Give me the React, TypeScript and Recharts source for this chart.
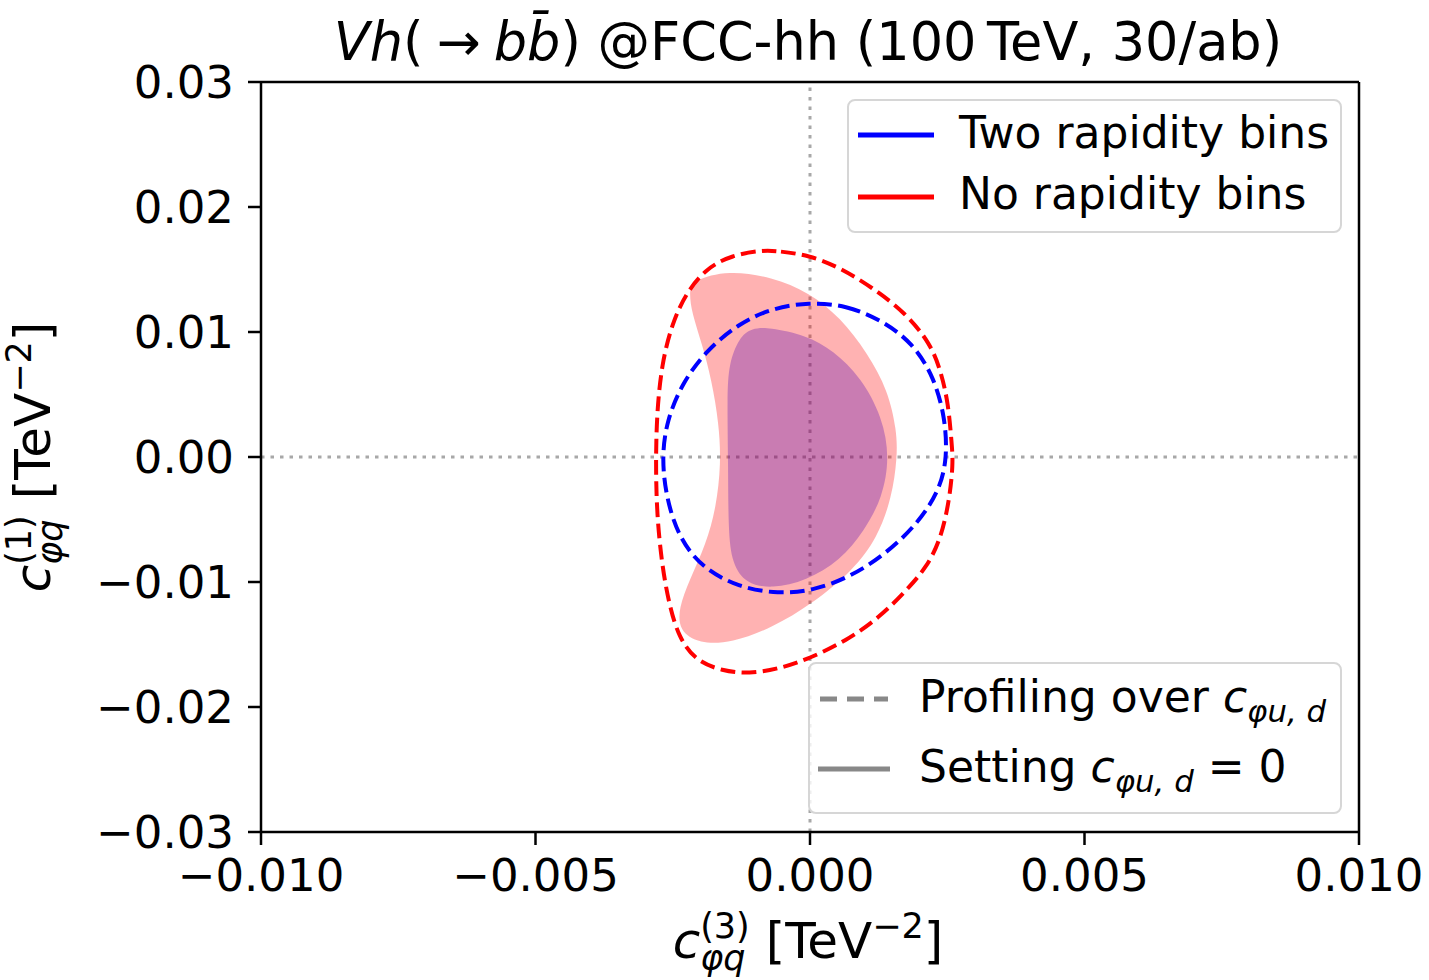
import React from 'react';
import { ScatterChart, Scatter, XAxis, YAxis, ReferenceLine } from 'recharts';

// ---- axis ticks ----
const xTicks = [-0.01, -0.005, 0, 0.005, 0.01];
const yTicks = [-0.03, -0.02, -0.01, 0, 0.01, 0.02, 0.03];

// ---- Profiling, no rapidity bins (red dashed) ----
const redDashX = [-0.00087, -0.00057, -0.00002, 0.00053, 0.00113, 0.00175, 0.00219, 0.00238, 0.00252, 0.00258, 0.00261, 0.00253, 0.00237, 0.00212, 0.00175, 0.00126, 0.00066, -0.00002, -0.00057, -0.00111, -0.0016, -0.00208, -0.00239, -0.00257, -0.0027, -0.00279, -0.00281, -0.00279, -0.0027, -0.00251, -0.00226, -0.00189, -0.00142];
const redDashY = [0.01655, 0.01647, 0.01615, 0.01518, 0.01358, 0.0115, 0.00909, 0.00693, 0.00429, 0.00108, -0.00052, -0.00373, -0.00669, -0.00885, -0.0107, -0.01286, -0.0147, -0.01615, -0.01695, -0.01735, -0.01711, -0.01631, -0.01446, -0.01174, -0.00853, -0.00453, -0.00052, 0.00349, 0.00749, 0.0107, 0.0131, 0.0151, 0.01615];

// ---- Profiling, two rapidity bins (blue dashed) ----
const blueDashX = [-0.00002, 0.00066, 0.00131, 0.00188, 0.00226, 0.00246, 0.0025, 0.00236, 0.00196, 0.00139, 0.00071, 0.00004, -0.00057, -0.00129, -0.00197, -0.00239, -0.00262, -0.0027, -0.00261, -0.00233, -0.00189, -0.00129, -0.00069];
const blueDashY = [0.01238, 0.01214, 0.01094, 0.00909, 0.00637, 0.00317, -0.00004, -0.00268, -0.00533, -0.00773, -0.00966, -0.0107, -0.01094, -0.01046, -0.00885, -0.00645, -0.00325, -0.00004, 0.00292, 0.00589, 0.00853, 0.0107, 0.0119];

// ---- Setting c_phiu,d = 0, no rapidity bins (red fill) ----
const redFillX = [-0.00148, -0.00069, -0.00002, 0.00055, 0.00105, 0.00142, 0.00158, 0.00159, 0.00149, 0.00123, 0.00078, 0.00004, -0.00069, -0.00142, -0.00202, -0.00239, -0.00239, -0.0022, -0.00189, -0.00171, -0.00162, -0.00166, -0.00179, -0.00197, -0.00215, -0.0022, -0.00215];
const redFillY = [0.01494, 0.01438, 0.01318, 0.01118, 0.00829, 0.00533, 0.00212, -0.00004, -0.00325, -0.00645, -0.00909, -0.01174, -0.01366, -0.01486, -0.01494, -0.0139, -0.01206, -0.0099, -0.00693, -0.00405, -0.00052, 0.00268, 0.00613, 0.00909, 0.0115, 0.0131, 0.01414];

// ---- Setting c_phiu,d = 0, two rapidity bins (blue fill) ----
const blueFillX = [-0.00075, -0.00007, 0.00042, 0.00093, 0.00132, 0.00145, 0.00132, 0.00099, 0.00055, -0.00007, -0.00069, -0.00117, -0.00142, -0.00149, -0.00149, -0.00151, -0.00148, -0.00129, -0.00106];
const blueFillY = [0.01038, 0.00974, 0.00853, 0.00637, 0.00317, -0.00004, -0.00325, -0.00589, -0.00829, -0.0099, -0.01054, -0.01014, -0.00853, -0.00589, -0.00052, 0.00477, 0.00749, 0.00957, 0.0103];

const zip = (xs: number[], ys: number[]) => xs.map((x, i) => ({ x, y: ys[i] }));

const redDash = zip(redDashX, redDashY);
const blueDash = zip(blueDashX, blueDashY);
const redFill = zip(redFillX, redFillY);
const blueFill = zip(blueFillX, blueFillY);

const FONT = "'DejaVu Sans', sans-serif";
const TICK_FS = 45;
const LEG_FS = 44;
const LABEL_FS = 50;
const TITLE_FS = 52.5;

const minus = (s: string) => s.replace('-', '\u2212');
const fmtX = (v: number) => minus(v.toFixed(3));
const fmtY = (v: number) => minus(v.toFixed(2));

const noShape = () => <g />;

const SupSub = ({ sup, sub }: { sup: string; sub: string }) => (
  <span
    style={{
      display: 'inline-flex',
      flexDirection: 'column',
      fontSize: '0.7em',
      lineHeight: 0.9,
      position: 'relative',
      top: '-0.55em',
      verticalAlign: 'baseline',
    }}
  >
    <span>{sup}</span>
    <span style={{ fontStyle: 'italic' }}>{sub}</span>
  </span>
);

const Sub = ({ children }: { children: React.ReactNode }) => (
  <span style={{ fontSize: '0.7em', fontStyle: 'italic', position: 'relative', top: '0.33em' }}>{children}</span>
);

const Sup = ({ children }: { children: React.ReactNode }) => (
  <span style={{ fontSize: '0.7em', position: 'relative', top: '-0.55em' }}>{children}</span>
);

const TextAt = ({ x, baseline, fs, children, center }: { x: number; baseline: number; fs: number; children: React.ReactNode; center?: boolean }) => (
  <div
    style={{
      position: 'absolute',
      left: x,
      top: baseline - 0.846 * fs,
      fontSize: fs,
      lineHeight: 1,
      whiteSpace: 'nowrap',
      transform: center ? 'translateX(-50%)' : undefined,
      color: '#000',
    }}
  >
    {children}
  </div>
);

export default function App() {
  const axisLine = { stroke: '#000', strokeWidth: 2.5 };
  const tickLine = { stroke: '#000', strokeWidth: 2.5 };
  const tickStyle = { fill: '#000', fontSize: TICK_FS, fontFamily: FONT };
  return (
    <div style={{ position: 'absolute', left: 0, top: 0, width: 1429, height: 980, background: '#fff', fontFamily: FONT }}>
      <ScatterChart width={1429} height={980} margin={{ top: 81, right: 69, bottom: 88, left: 161 }}>
        <XAxis
          xAxisId="b"
          type="number"
          dataKey="x"
          orientation="bottom"
          domain={[-0.01, 0.01]}
          ticks={xTicks}
          tickFormatter={fmtX}
          interval={0}
          allowDataOverflow
          height={60}
          tickSize={13}
          tickMargin={14}
          axisLine={axisLine}
          tickLine={tickLine}
          tick={tickStyle}
        />
        <XAxis
          xAxisId="t"
          type="number"
          orientation="top"
          domain={[-0.01, 0.01]}
          ticks={xTicks}
          interval={0}
          allowDataOverflow
          height={1}
          tickSize={13}
          axisLine={axisLine}
          tickLine={tickLine}
          tick={false}
        />
        <YAxis
          yAxisId="l"
          type="number"
          dataKey="y"
          orientation="left"
          domain={[-0.03, 0.03]}
          ticks={yTicks}
          tickFormatter={fmtY}
          interval={0}
          allowDataOverflow
          width={100}
          tickSize={13}
          tickMargin={14}
          axisLine={axisLine}
          tickLine={tickLine}
          tick={tickStyle}
        />
        <YAxis
          yAxisId="r"
          type="number"
          orientation="right"
          domain={[-0.03, 0.03]}
          ticks={yTicks}
          interval={0}
          allowDataOverflow
          width={1}
          tickSize={13}
          axisLine={axisLine}
          tickLine={tickLine}
          tick={false}
        />
        <Scatter
          name="blueFill"
          data={blueFill}
          xAxisId="b"
          yAxisId="l"
          shape={noShape}
          line={{ fill: '#0000ff', fillOpacity: 0.3, stroke: 'none' }}
          lineType="joint"
          lineJointType="basisClosed"
          isAnimationActive={false}
          legendType="none"
        />
        <Scatter
          name="redFill"
          data={redFill}
          xAxisId="b"
          yAxisId="l"
          shape={noShape}
          line={{ fill: '#ff0000', fillOpacity: 0.3, stroke: 'none' }}
          lineType="joint"
          lineJointType="basisClosed"
          isAnimationActive={false}
          legendType="none"
        />
        <ReferenceLine x={0} xAxisId="b" yAxisId="l" stroke="#a8a8a8" strokeWidth={3} strokeDasharray="3.5 6" />
        <ReferenceLine y={0} xAxisId="b" yAxisId="l" stroke="#a8a8a8" strokeWidth={3} strokeDasharray="3.5 6" />
        <Scatter
          name="blueDash"
          data={blueDash}
          xAxisId="b"
          yAxisId="l"
          shape={noShape}
          line={{ fill: 'none', stroke: '#0000ff', strokeWidth: 4, strokeDasharray: '14.8 6.4' }}
          lineType="joint"
          lineJointType="basisClosed"
          isAnimationActive={false}
          legendType="none"
        />
        <Scatter
          name="redDash"
          data={redDash}
          xAxisId="b"
          yAxisId="l"
          shape={noShape}
          line={{ fill: 'none', stroke: '#ff0000', strokeWidth: 4, strokeDasharray: '14.8 6.4' }}
          lineType="joint"
          lineJointType="basisClosed"
          isAnimationActive={false}
          legendType="none"
        />
      </ScatterChart>

      {/* Title */}
      <TextAt x={808} baseline={60} fs={TITLE_FS} center>
        <i>Vh</i>({'\u2005'}→{'\u2005'}<i>b</i><i>{'b\u0304'}</i>) @FCC-hh (100{'\u2009'}TeV, 30/ab)
      </TextAt>

      {/* X label */}
      <TextAt x={808} baseline={958} fs={LABEL_FS} center>
        <i>c</i>
        <SupSub sup="(3)" sub="φq" /> [TeV<Sup>−2</Sup>]
      </TextAt>

      {/* Y label */}
      <div
        style={{
          position: 'absolute',
          left: 47,
          top: 457,
          fontSize: LABEL_FS,
          lineHeight: 1,
          whiteSpace: 'nowrap',
          transform: 'translate(-50%, -50%) rotate(-90deg)',
          color: '#000',
        }}
      >
        <i>c</i>
        <SupSub sup="(1)" sub="φq" /> [TeV<Sup>−2</Sup>]
      </div>

      {/* Legend 1 */}
      <div
        style={{
          position: 'absolute',
          left: 847,
          top: 99,
          width: 495,
          height: 134,
          boxSizing: 'border-box',
          border: '2px solid #d6d6d6',
          borderRadius: 8,
          background: 'rgba(255,255,255,0.8)',
        }}
      />
      <svg style={{ position: 'absolute', left: 0, top: 0 }} width={1429} height={980} pointerEvents="none">
        <line x1={858} x2={934} y1={135} y2={135} stroke="#0000ff" strokeWidth={5} />
        <line x1={858} x2={934} y1={197} y2={197} stroke="#ff0000" strokeWidth={5} />
      </svg>
      <TextAt x={959} baseline={148} fs={LEG_FS}>Two rapidity bins</TextAt>
      <TextAt x={959} baseline={209} fs={LEG_FS}>No rapidity bins</TextAt>

      {/* Legend 2 */}
      <div
        style={{
          position: 'absolute',
          left: 808,
          top: 662,
          width: 534,
          height: 152,
          boxSizing: 'border-box',
          border: '2px solid #d6d6d6',
          borderRadius: 8,
          background: 'rgba(255,255,255,0.8)',
        }}
      />
      <svg style={{ position: 'absolute', left: 0, top: 0 }} width={1429} height={980} pointerEvents="none">
        <line x1={820} x2={888} y1={699} y2={699} stroke="#888888" strokeWidth={5} strokeDasharray="17 10" />
        <line x1={818} x2={890} y1={769} y2={769} stroke="#888888" strokeWidth={5} />
      </svg>
      <TextAt x={919} baseline={712} fs={LEG_FS}>
        Profiling over <i>c</i>
        <Sub>φu, d</Sub>
      </TextAt>
      <TextAt x={919} baseline={782} fs={LEG_FS}>
        Setting <i>c</i>
        <Sub>φu, d</Sub> = 0
      </TextAt>
    </div>
  );
}
